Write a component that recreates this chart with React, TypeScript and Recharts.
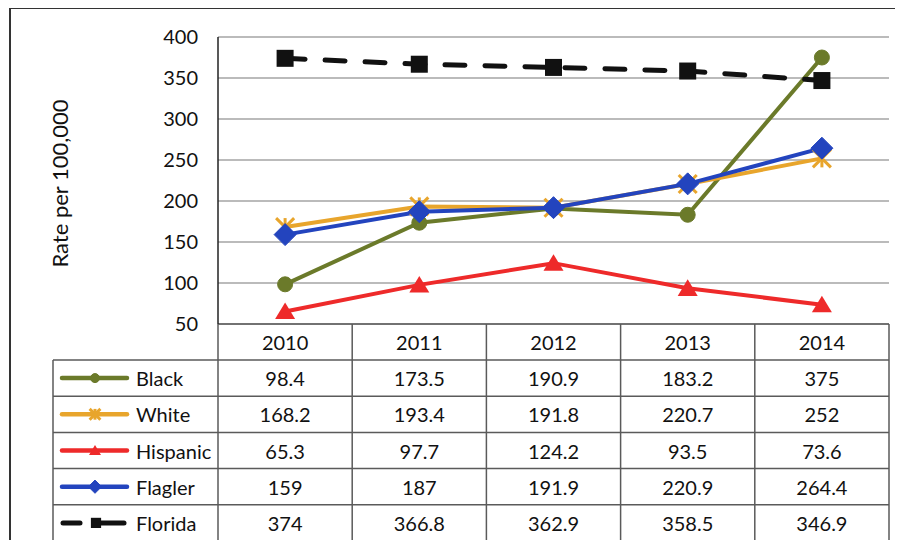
import React from 'react';
import { LineChart, Line, XAxis, YAxis, CartesianGrid } from 'recharts';

const years = ['2010', '2011', '2012', '2013', '2014'];
const black = [98.4, 173.5, 190.9, 183.2, 375];
const white = [168.2, 193.4, 191.8, 220.7, 252];
const hispanic = [65.3, 97.7, 124.2, 93.5, 73.6];
const flagler = [159, 187, 191.9, 220.9, 264.4];
const florida = [374, 366.8, 362.9, 358.5, 346.9];
const yTicks = [50, 100, 150, 200, 250, 300, 350, 400];

const seriesNames = ['Black', 'White', 'Hispanic', 'Flagler', 'Florida'];
const seriesValues = [black, white, hispanic, flagler, florida];
const seriesColors = ['#6B7A2A', '#E8A52C', '#EE2A2A', '#2344BE', '#111111'];
const seriesShapes = ['circle', 'star', 'triangle', 'diamond', 'square'];

const data = years.map((y, i) => ({
  year: y,
  Black: black[i],
  White: white[i],
  Hispanic: hispanic[i],
  Flagler: flagler[i],
  Florida: florida[i],
}));

const FONT = 'Lato, "Open Sans", sans-serif';
const W = 903;
const H = 548;
const PLOT_LEFT = 218;
const PLOT_RIGHT = 889;
const PLOT_TOP = 37;
const PLOT_BOTTOM = 324;
const COL_HALF = (PLOT_RIGHT - PLOT_LEFT) / 10;
const HEADER_BOTTOM = 360;
const ROW_H = 36.2;
const LEG_LEFT = 53;
const GRID_COLOR = '#5a5a5a';

function Marker({ shape, cx, cy, color, scale = 1 }: any) {
  if (cx == null || cy == null) return null;
  const s = scale;
  if (shape === 'circle') {
    return <circle cx={cx} cy={cy} r={7.5 * s} fill={color} stroke={color} />;
  }
  if (shape === 'star') {
    const a = 9 * s;
    return (
      <g stroke={color} strokeWidth={3} strokeLinecap="butt">
        <line x1={cx - a} y1={cy - a} x2={cx + a} y2={cy + a} />
        <line x1={cx - a} y1={cy + a} x2={cx + a} y2={cy - a} />
        <line x1={cx} y1={cy - a} x2={cx} y2={cy + a} />
      </g>
    );
  }
  if (shape === 'triangle') {
    const w = 10 * s;
    const h = 9 * s;
    return (
      <polygon
        points={`${cx},${cy - h} ${cx + w},${cy + h * 0.85} ${cx - w},${cy + h * 0.85}`}
        fill={color}
      />
    );
  }
  if (shape === 'diamond') {
    const d = 11 * s;
    return (
      <polygon
        points={`${cx},${cy - d} ${cx + d},${cy} ${cx},${cy + d} ${cx - d},${cy}`}
        fill={color}
        stroke={color}
        strokeWidth={1}
      />
    );
  }
  const q = 8.5 * s;
  return <rect x={cx - q} y={cy - q} width={2 * q} height={2 * q} fill={color} />;
}

function makeDot(idx: number) {
  return (props: any) => (
    <Marker
      key={`${seriesNames[idx]}-${props.index}`}
      shape={seriesShapes[idx]}
      cx={props.cx}
      cy={props.cy}
      color={seriesColors[idx]}
    />
  );
}

function TableColumn(props: any) {
  const { x, payload, index } = props;
  const left = x - COL_HALF;
  const right = x + COL_HALF;
  const rowLines = [0, 1, 2, 3, 4, 5].map((k) => HEADER_BOTTOM + k * ROW_H);
  const tableBottom = HEADER_BOTTOM + 5 * ROW_H;
  return (
    <g>
      <text
        x={x}
        y={(PLOT_BOTTOM + HEADER_BOTTOM) / 2}
        textAnchor="middle"
        dominantBaseline="central"
        fontFamily={FONT}
        fontSize={20}
        fill="#111"
      >
        {payload.value}
      </text>
      {rowLines.map((ly, k) => (
        <line key={`h${k}`} x1={left} x2={right} y1={ly} y2={ly} stroke={GRID_COLOR} strokeWidth={1.5} />
      ))}
      {index > 0 && (
        <line x1={left} x2={left} y1={PLOT_BOTTOM} y2={tableBottom} stroke={GRID_COLOR} strokeWidth={1.5} />
      )}
      {index === years.length - 1 && (
        <line x1={right} x2={right} y1={PLOT_BOTTOM} y2={tableBottom} stroke={GRID_COLOR} strokeWidth={1.5} />
      )}
      {seriesValues.map((vals, r) => (
        <text
          key={`v${r}`}
          x={x}
          y={HEADER_BOTTOM + ROW_H * (r + 0.5)}
          textAnchor="middle"
          dominantBaseline="central"
          fontFamily={FONT}
          fontSize={20}
          fill="#111"
        >
          {String(vals[index])}
        </text>
      ))}
      {index === 0 && (
        <g>
          <line x1={PLOT_LEFT} x2={PLOT_LEFT} y1={PLOT_BOTTOM} y2={tableBottom} stroke={GRID_COLOR} strokeWidth={1.5} />
          <line x1={LEG_LEFT} x2={LEG_LEFT} y1={HEADER_BOTTOM} y2={tableBottom} stroke={GRID_COLOR} strokeWidth={1.5} />
          {rowLines.map((ly, k) => (
            <line key={`lh${k}`} x1={LEG_LEFT} x2={PLOT_LEFT} y1={ly} y2={ly} stroke={GRID_COLOR} strokeWidth={1.5} />
          ))}
          {seriesNames.map((name, r) => {
            const cy = HEADER_BOTTOM + ROW_H * (r + 0.5);
            const dashed = r === 4;
            return (
              <g key={`leg${r}`}>
                {dashed ? (
                  <g stroke={seriesColors[r]} strokeWidth={5} strokeLinecap="round">
                    <line x1={63} x2={80} y1={cy} y2={cy} />
                    <line x1={95} x2={124} y1={cy} y2={cy} />
                  </g>
                ) : (
                  <line
                    x1={62}
                    x2={127}
                    y1={cy}
                    y2={cy}
                    stroke={seriesColors[r]}
                    strokeWidth={4.5}
                    strokeLinecap="round"
                  />
                )}
                <Marker shape={seriesShapes[r]} cx={dashed ? 96 : 95} cy={cy} color={seriesColors[r]} scale={0.6} />
                <text
                  x={136}
                  y={cy}
                  dominantBaseline="central"
                  fontFamily={FONT}
                  fontSize={20}
                  fill="#111"
                >
                  {name}
                </text>
              </g>
            );
          })}
        </g>
      )}
    </g>
  );
}

function YLabel(props: any) {
  const cy = (PLOT_TOP + PLOT_BOTTOM) / 2 + 3;
  return (
    <text
      x={59}
      y={cy}
      transform={`rotate(-90, 59, ${cy})`}
      textAnchor="middle"
      dominantBaseline="central"
      fontFamily={FONT}
      fontSize={22}
      fill="#111"
    >
      Rate per 100,000
    </text>
  );
}

export default function App() {
  return (
    <div style={{ position: 'relative', margin: -8, width: W, height: H, background: '#fff', overflow: 'hidden' }}>
      <div
        style={{
          position: 'absolute',
          left: 9,
          top: 7,
          width: W,
          height: H,
          borderTop: '2px solid #333',
          borderLeft: '2px solid #333',
        }}
      />
      <div style={{ position: 'absolute', left: 0, top: 0 }}>
        <LineChart
          width={W}
          height={H}
          data={data}
          margin={{ top: PLOT_TOP, right: W - PLOT_RIGHT, bottom: H - PLOT_BOTTOM - 36, left: PLOT_LEFT - 60 }}
        >
          <CartesianGrid vertical={false} stroke="#a5a5a5" strokeWidth={1.5} />
          <XAxis
            dataKey="year"
            height={36}
            padding={{ left: COL_HALF, right: COL_HALF }}
            interval={0}
            tickLine={false}
            tickSize={0}
            tickMargin={0}
            axisLine={{ stroke: GRID_COLOR, strokeWidth: 1.5 }}
            tick={(p: any) => <TableColumn {...p} />}
          />
          <YAxis
            width={60}
            domain={[50, 400]}
            ticks={yTicks}
            interval={0}
            tickLine={false}
            tickSize={0}
            tickMargin={20}
            axisLine={{ stroke: '#222', strokeWidth: 1.5 }}
            tick={{ fontFamily: FONT, fontSize: 20, fill: '#111' }}
            label={<YLabel />}
          />
          <Line
            dataKey="Black"
            stroke={seriesColors[0]}
            strokeWidth={4}
            dot={makeDot(0)}
            activeDot={false}
            isAnimationActive={false}
          />
          <Line
            dataKey="White"
            stroke={seriesColors[1]}
            strokeWidth={4}
            dot={makeDot(1)}
            activeDot={false}
            isAnimationActive={false}
          />
          <Line
            dataKey="Hispanic"
            stroke={seriesColors[2]}
            strokeWidth={4}
            dot={makeDot(2)}
            activeDot={false}
            isAnimationActive={false}
          />
          <Line
            dataKey="Flagler"
            stroke={seriesColors[3]}
            strokeWidth={4}
            dot={makeDot(3)}
            activeDot={false}
            isAnimationActive={false}
          />
          <Line
            dataKey="Florida"
            stroke={seriesColors[4]}
            strokeWidth={5}
            strokeDasharray="20 20"
            strokeLinecap="round"
            dot={makeDot(4)}
            activeDot={false}
            isAnimationActive={false}
          />
        </LineChart>
      </div>
    </div>
  );
}
